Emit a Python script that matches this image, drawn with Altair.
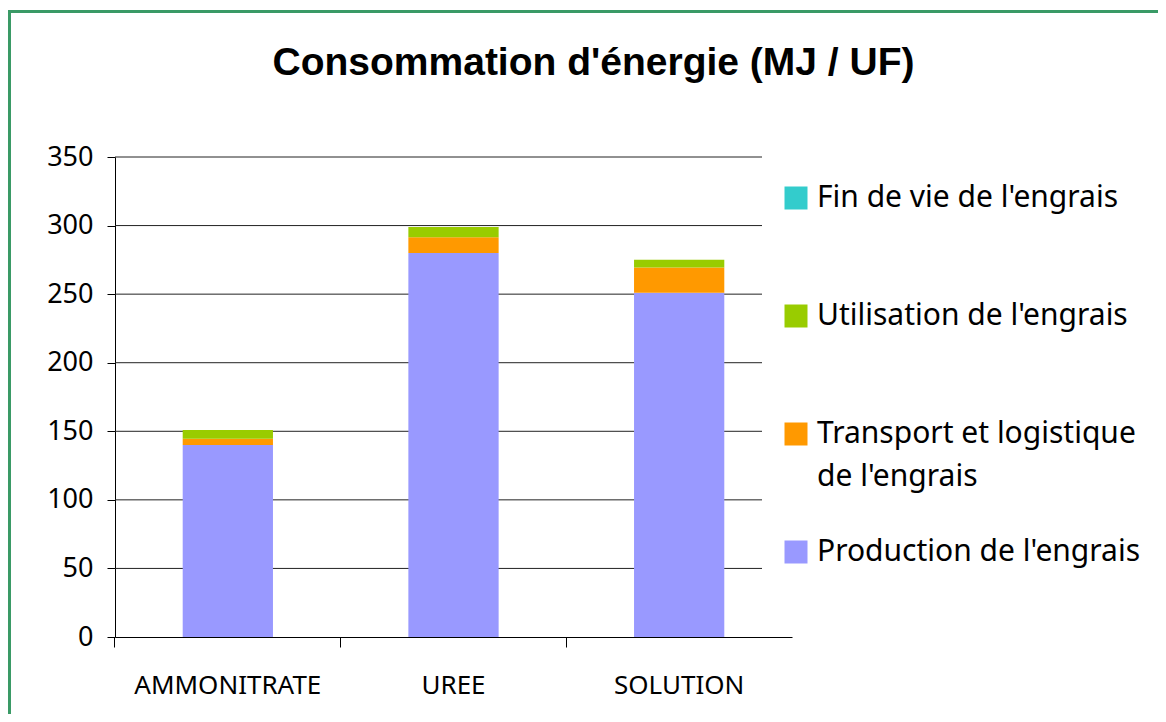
import altair as alt
import pandas as pd

categories = ["AMMONITRATE", "UREE", "SOLUTION"]
series = ["Fin de vie de l'engrais", "Utilisation de l'engrais",
          "Transport et logistique de l'engrais", "Production de l'engrais"]
colors = ["#33CCCC", "#99CC00", "#FF9900", "#9999FF"]
production = [140, 280, 251]
transport = [4.5, 11.5, 18.5]
utilisation = [6.5, 7.5, 5.5]
fin_de_vie = [0, 0, 0]
y_ticks = [0, 50, 100, 150, 200, 250, 300, 350]

rows = []
for i, c in enumerate(categories):
    for s, vals, o in [(series[3], production, 0), (series[2], transport, 1),
                       (series[1], utilisation, 2), (series[0], fin_de_vie, 3)]:
        rows.append({"cat": c, "serie": s, "value": vals[i], "ord": o})
df = pd.DataFrame(rows)

W, H = 677, 480
FONT = "Noto Sans"
yscale = alt.Scale(domain=[0, 350], nice=False)
yaxis = alt.Axis(values=y_ticks, grid=False, title=None, tickSize=8,
                 tickColor="black", domainColor="black",
                 labelColor="black", labelFont=FONT,
                 labelFontSize=27, labelPadding=14)

grid = alt.Chart(pd.DataFrame({"v": y_ticks[1:]})).mark_rule(
    color="#222222", strokeWidth=1
).encode(
    y=alt.Y("v:Q", scale=yscale, axis=yaxis),
    x=alt.value(0), x2=alt.value(647),
)

bars = alt.Chart(df).mark_bar().encode(
    x=alt.X("cat:N", sort=categories,
            scale=alt.Scale(paddingInner=0.6, paddingOuter=0.3),
            axis=alt.Axis(title=None, labelAngle=0, bandPosition=-0.752,
                          tickSize=10, tickColor="black",
                          domainColor="black", labelColor="black",
                          labelFont=FONT, labelFontSize=26, labelPadding=25,
                          labelLimit=400)),
    y=alt.Y("value:Q", stack="zero", scale=yscale, axis=yaxis),
    color=alt.Color("serie:N", scale=alt.Scale(domain=series, range=colors),
                    legend=alt.Legend(
                        title=None, orient="none", legendX=666, legendY=26,
                        symbolType="square", symbolSize=529,
                        symbolStrokeWidth=0, symbolOpacity=1,
                        labelFont=FONT, labelFontSize=30, labelColor="black",
                        labelOffset=6, rowPadding=45, padding=0,
                        labelLimit=500,
                        labelExpr="indexof(datum.label, 'Transport') >= 0 ? ['Transport et logistique', 'de l\\'engrais'] : [datum.label, ' ']")),
    order=alt.Order("ord:Q", sort="ascending"),
)

border = alt.Chart(pd.DataFrame({"a": [0]})).mark_rect(
    fill="transparent", stroke="#3a9a66", strokeWidth=3, clip=False
).encode(
    x=alt.value(-105.5), y=alt.value(-145.5),
    x2=alt.value(1061), y2=alt.value(575),
)

chart = alt.layer(grid, bars, border).properties(
    width=W, height=H,
    background="white",
    title=alt.TitleParams("Consommation d'énergie (MJ / UF)",
                          font="Liberation Sans", fontSize=39,
                          fontWeight="bold", color="black", anchor="middle",
                          baseline="alphabetic",
                          frame="group", dx=140, dy=114, offset=10),
    autosize=alt.AutoSizeParams(type="none"),
    padding={"left": 107, "top": 149, "right": 366, "bottom": 77},
).configure(
    view={"stroke": "transparent", "strokeWidth": 0},
    style={"guide-label": {"lineHeight": 43}},
)

chart.save("out.html", embed_options={"renderer": "svg", "actions": False})
